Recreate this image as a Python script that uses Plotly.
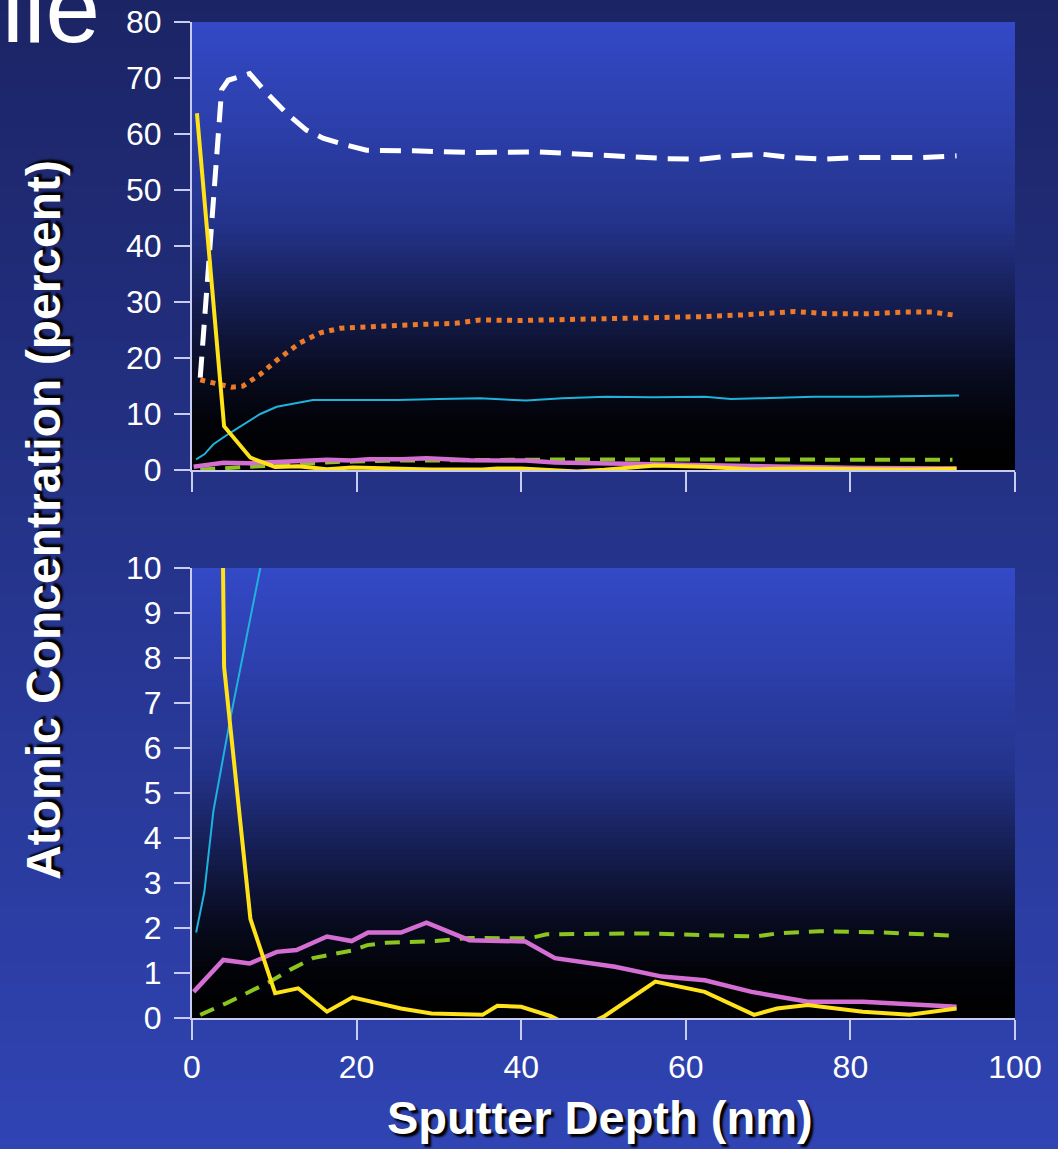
import plotly.graph_objects as go

# ---------------- data ----------------
x_ticks = [0, 20, 40, 60, 80, 100]

depth_white = [1.0, 3.6, 4.4, 7.0, 8.7, 11.5, 13.9, 16.0, 18.8, 21.2, 26.9, 33.8, 42.0, 46.0,
               49.9, 53.9, 57.8, 61.8, 65.4, 69.2, 72.9, 76.9, 80.8, 88.8, 92.9]
conc_white = [16.5, 67.9, 69.6, 70.8, 67.9, 63.7, 60.7, 59.2, 58.0, 57.1, 57.0, 56.7, 56.8, 56.5,
              56.1, 55.8, 55.6, 55.5, 56.1, 56.4, 55.8, 55.5, 55.8, 55.8, 56.1]

depth_orange = [1.0, 2.6, 4.8, 6.2, 8.3, 10.3, 13.1, 15.6, 18.0, 20.4, 22.8, 28.0, 32.0, 35.0,
                40.0, 44.6, 50.0, 55.0, 62.3, 67.0, 71.1, 73.3, 77.3, 82.0, 86.4, 90.0, 92.9]
conc_orange = [16.1, 15.5, 14.8, 15.0, 17.1, 19.6, 22.7, 24.5, 25.3, 25.5, 25.7, 26.0, 26.2, 26.8,
               26.7, 26.8, 27.0, 27.1, 27.4, 27.7, 28.1, 28.3, 27.9, 27.9, 28.2, 28.2, 27.6]

depth_cyan = [0.5, 1.5, 2.6, 4.6, 8.3, 10.3, 14.7, 20.0, 25.0, 30.0, 35.0, 40.6, 45.0, 50.3,
              56.0, 62.3, 65.5, 68.9, 75.5, 82.0, 88.0, 93.2]
conc_cyan = [1.9, 2.8, 4.6, 6.6, 10.0, 11.3, 12.5, 12.5, 12.5, 12.7, 12.8, 12.4, 12.8, 13.1,
             13.0, 13.1, 12.7, 12.8, 13.1, 13.1, 13.2, 13.3]

depth_yellow = [0.6, 3.9, 7.1, 10.1, 12.9, 16.4, 19.5, 25.4, 29.1, 35.3, 37.1, 40.0, 43.6, 46.8,
                50.1, 56.3, 62.3, 68.3, 71.1, 74.8, 81.5, 87.2, 92.9]
conc_yellow = [63.7, 7.8, 2.2, 0.55, 0.66, 0.14, 0.46, 0.21, 0.10, 0.07, 0.27, 0.25, 0.04, -0.25,
               0.04, 0.81, 0.58, 0.07, 0.21, 0.29, 0.14, 0.07, 0.21]

depth_magenta = [0.2, 3.8, 7.0, 10.3, 12.7, 16.4, 19.4, 21.4, 25.4, 28.5, 33.7, 40.5, 44.1, 51.4,
                 57.1, 62.3, 68.0, 74.8, 81.5, 92.9]
conc_magenta = [0.58, 1.29, 1.21, 1.47, 1.51, 1.81, 1.71, 1.90, 1.90, 2.12, 1.73, 1.70, 1.33, 1.14,
                0.92, 0.84, 0.58, 0.36, 0.36, 0.25]

depth_green = [1.0, 4.2, 9.5, 11.9, 14.7, 17.6, 19.7, 21.3, 23.6, 29.6, 33.7, 41.0, 43.1, 55.5,
               64.4, 68.5, 71.1, 76.3, 84.1, 86.7, 92.4]
conc_green = [0.07, 0.33, 0.81, 1.07, 1.33, 1.44, 1.51, 1.62, 1.67, 1.71, 1.78, 1.77, 1.86, 1.88,
              1.84, 1.81, 1.88, 1.93, 1.90, 1.88, 1.83]

# ---------------- layout geometry ----------------
W, H = 1058, 1149
ML, MR, MT, MB = 192, 43, 22, 131
PW, PH = W - ML - MR, H - MT - MB
top_dom = [(1018 - 470) / PH, 1.0]
bot_dom = [0.0, (1018 - 568) / PH]

series = [
    (depth_white, conc_white, dict(color="#ffffff", width=5, dash="21px,11px")),
    (depth_orange, conc_orange, dict(color="#ec7a2a", width=5, dash="5px,5.5px")),
    (depth_cyan, conc_cyan, dict(color="#1fb2dc", width=2)),
    (depth_green, conc_green, dict(color="#8cc420", width=4, dash="15px,10px")),
    (depth_magenta, conc_magenta, dict(color="#d46ed2", width=4.5)),
    (depth_yellow, conc_yellow, dict(color="#ffe21a", width=4)),
]

fig = go.Figure()
for xa, ya in (("x", "y"), ("x2", "y2")):
    for d, c, ln in series:
        fig.add_trace(go.Scatter(x=d, y=c, mode="lines", line=ln, xaxis=xa, yaxis=ya,
                                 showlegend=False, hoverinfo="skip"))

shapes = []


def lerp(a, b, t):
    return tuple(int(round(a[i] + (b[i] - a[i]) * t)) for i in range(3))


# slide background gradient (paper)
x0p, x1p = -ML / PW - 0.01, 1 + MR / PW + 0.01
y0p, y1p = -MB / PH - 0.01, 1 + MT / PH + 0.01
top_c, bot_c = (27, 36, 100), (48, 68, 180)
N = 60
for i in range(N):
    t = (i + 0.5) / N
    col = lerp(top_c, bot_c, t)
    ya = y1p - (y1p - y0p) * i / N
    yb = y1p - (y1p - y0p) * (i + 1) / N - 0.003
    shapes.append(dict(type="rect", xref="paper", yref="paper", x0=x0p, x1=x1p, y0=yb, y1=ya,
                       fillcolor="rgb(%d,%d,%d)" % col, line=dict(width=0), layer="below"))

# plot-area gradient (bright blue at top to black at bottom)
stops = [(0, 1.0), (0.2, 0.88), (0.45, 0.70), (0.62, 0.42), (0.8, 0.14), (0.9, 0.04), (1.0, 0.0)]
pc = (51, 73, 198)


def fac(t):
    for (ta, fa), (tb, fb) in zip(stops[:-1], stops[1:]):
        if ta <= t <= tb:
            return fa + (fb - fa) * (t - ta) / (tb - ta)
    return 0.0


M = 80
for xr, yr in (("x domain", "y domain"), ("x2 domain", "y2 domain")):
    for i in range(M):
        t = (i + 0.5) / M
        f = fac(t)
        col = tuple(int(round(v * f)) for v in pc)
        ya = 1 - i / M
        yb = max(0, 1 - (i + 1) / M - 0.004)
        shapes.append(dict(type="rect", xref=xr, yref=yr, x0=0, x1=1, y0=yb, y1=ya,
                           fillcolor="rgb(%d,%d,%d)" % col, line=dict(width=0), layer="below"))

axis_col = "#c8ccf2"
tickfont = dict(family="Liberation Sans, Arial, sans-serif", size=32, color="white")
common_x = dict(range=[0, 100], tickvals=x_ticks, showgrid=False, zeroline=False,
                showline=True, linecolor=axis_col, linewidth=2, ticks="outside",
                ticklen=20, tickwidth=2, tickcolor=axis_col, tickfont=tickfont, automargin=False)
common_y = dict(showgrid=False, zeroline=False, showline=True, linecolor=axis_col, linewidth=2,
                ticks="outside", ticklen=16, tickwidth=2, tickcolor=axis_col, tickfont=tickfont,
                ticklabelstandoff=6, automargin=False)

fig.update_layout(
    width=W, height=H,
    margin=dict(l=ML, r=MR, t=MT, b=MB, autoexpand=False),
    paper_bgcolor="#26369a",
    plot_bgcolor="rgba(0,0,0,0)",
    shapes=shapes,
    xaxis=dict(domain=[0, 1], anchor="y", showticklabels=False, **common_x),
    yaxis=dict(domain=top_dom, anchor="x", range=[0, 80], dtick=10, **common_y),
    xaxis2=dict(domain=[0, 1], anchor="y2", showticklabels=True, ticklabelstandoff=0, **common_x),
    yaxis2=dict(domain=bot_dom, anchor="x2", range=[0, 10], dtick=1, **common_y),
    annotations=[
        dict(text="Atomic Concentration (percent)", xref="paper", yref="paper",
             x=(43 - ML) / PW, y=(1018 - 520) / PH, textangle=-90, showarrow=False,
             xanchor="center", yanchor="middle",
             font=dict(family="Liberation Sans, Arial, sans-serif", size=48, color="white",
                       weight="bold", shadow="3px 3px 2px #000000")),
        dict(text="Sputter Depth (nm)", xref="paper", yref="paper",
             x=(600 - ML) / PW, y=(1018 - 1117) / PH, showarrow=False,
             xanchor="center", yanchor="middle",
             font=dict(family="Liberation Sans, Arial, sans-serif", size=47, color="white",
                       weight="bold", shadow="3px 3px 2px #000000")),
        dict(text="ile", xref="paper", yref="paper",
             x=(0 - ML) / PW, y=(1018 - 8) / PH, showarrow=False,
             xanchor="left", yanchor="middle",
             font=dict(family="Liberation Sans, Arial, sans-serif", size=98, color="white")),
    ],
)

fig.write_html("out.html", config={"displayModeBar": False},
               post_script="document.body.style.margin='0';document.body.style.overflow='hidden';")
